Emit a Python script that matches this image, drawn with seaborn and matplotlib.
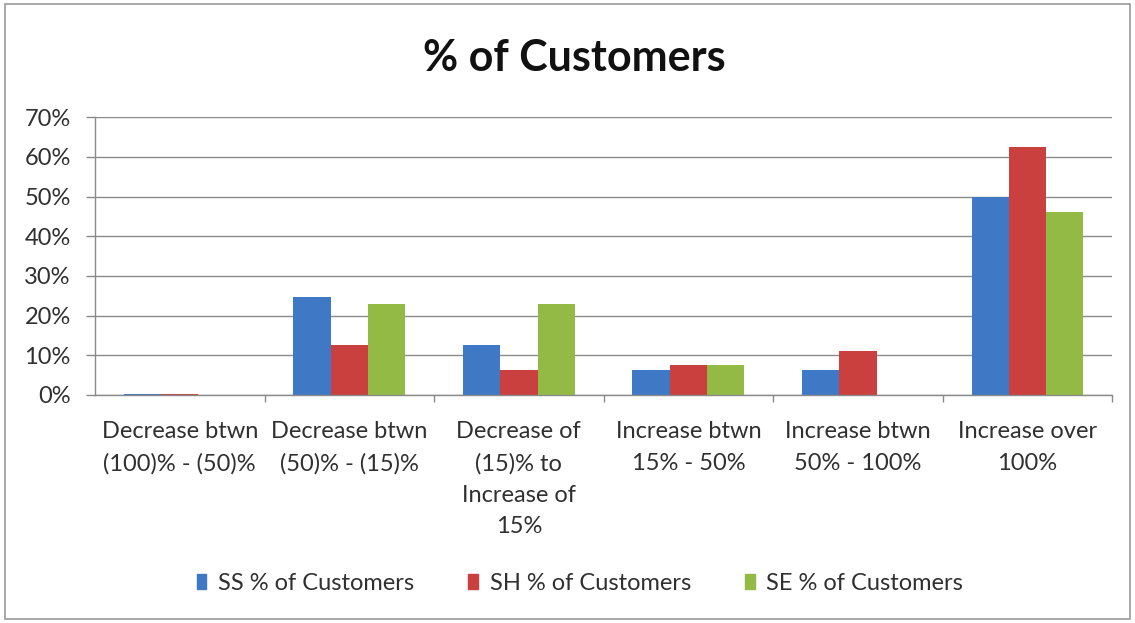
import matplotlib
matplotlib.use("Agg")
import matplotlib.pyplot as plt
import matplotlib.patches as mpatches
from matplotlib.ticker import FixedLocator, PercentFormatter
import pandas as pd
import seaborn as sns

categories = [
    "Decrease btwn\n(100)% - (50)%",
    "Decrease btwn\n(50)% - (15)%",
    "Decrease of\n(15)% to\nIncrease of\n15%",
    "Increase btwn\n15% - 50%",
    "Increase btwn\n50% - 100%",
    "Increase over\n100%",
]
series_names = ["SS % of Customers", "SH % of Customers", "SE % of Customers"]
ss_values = [0.3, 24.7, 12.5, 6.25, 6.25, 50.0]
sh_values = [0.3, 12.5, 6.25, 7.6, 11.1, 62.5]
se_values = [0.0, 23.0, 23.0, 7.6, 0.0, 46.0]
y_ticks = [0, 10, 20, 30, 40, 50, 60, 70]
colors = ["#3F78C5", "#C9403E", "#92BA45"]

rows = []
for name, vals in zip(series_names, [ss_values, sh_values, se_values]):
    for cat, v in zip(categories, vals):
        rows.append({"category": cat, "value": v, "series": name})
df = pd.DataFrame(rows)

sns.set_theme(style="white")
plt.rcParams["font.family"] = ["Lato", "DejaVu Sans"]
text_color = "#303030"
label_size = 17

fig = plt.figure(figsize=(11.35, 6.23), dpi=100)
ax = fig.add_axes([0.0837, 0.366, 0.8963, 0.446])

sns.barplot(data=df, x="category", y="value", hue="series", order=categories,
            hue_order=series_names, palette=colors, width=0.66, saturation=1,
            linewidth=0, ax=ax, legend=False)

ax.set_xlim(-0.5, 5.5)
ax.set_ylim(0, 70)
ax.yaxis.set_major_locator(FixedLocator(y_ticks))
ax.yaxis.set_major_formatter(PercentFormatter(decimals=0))
ax.grid(axis="y", color="#8a8a8a", linewidth=1.0)
ax.set_axisbelow(True)

for side in ["top", "right"]:
    ax.spines[side].set_visible(False)
for side in ["left", "bottom"]:
    ax.spines[side].set_color("#8a8a8a")
    ax.spines[side].set_linewidth(1.0)

ax.tick_params(axis="y", which="major", length=6.5, width=1, color="#8a8a8a",
               labelsize=label_size, labelcolor=text_color, pad=11, left=True)
ax.tick_params(axis="x", which="major", length=0, labelsize=label_size,
               labelcolor=text_color, pad=19)
ax.xaxis.set_minor_locator(FixedLocator([0.5, 1.5, 2.5, 3.5, 4.5, 5.5]))
ax.tick_params(axis="x", which="minor", length=5, width=1, color="#8a8a8a",
               bottom=True)
for lbl in ax.get_xticklabels():
    lbl.set_verticalalignment("top")
    lbl.set_multialignment("center")
    lbl.set_linespacing(1.6)
ax.set_xlabel("")
ax.set_ylabel("")

fig.suptitle("% of Customers", x=0.506, y=0.907, va="center", fontsize=31,
             fontweight="bold", color="#111111")

handles = [mpatches.Patch(color=c, label=n) for c, n in zip(colors, series_names)]
fig.legend(handles=handles, loc="center", bbox_to_anchor=(0.511, 0.064), ncol=3,
           frameon=False, fontsize=label_size, handlelength=0.4, handleheight=0.6,
           handletextpad=0.5, columnspacing=2.3, labelcolor=text_color)

fig.patches.append(mpatches.Rectangle((0.004, 0.006), 0.992, 0.988,
                                      transform=fig.transFigure, fill=False,
                                      edgecolor="#9a9a9a", linewidth=1.2))

fig.savefig("out.png", dpi=100, facecolor="white")
